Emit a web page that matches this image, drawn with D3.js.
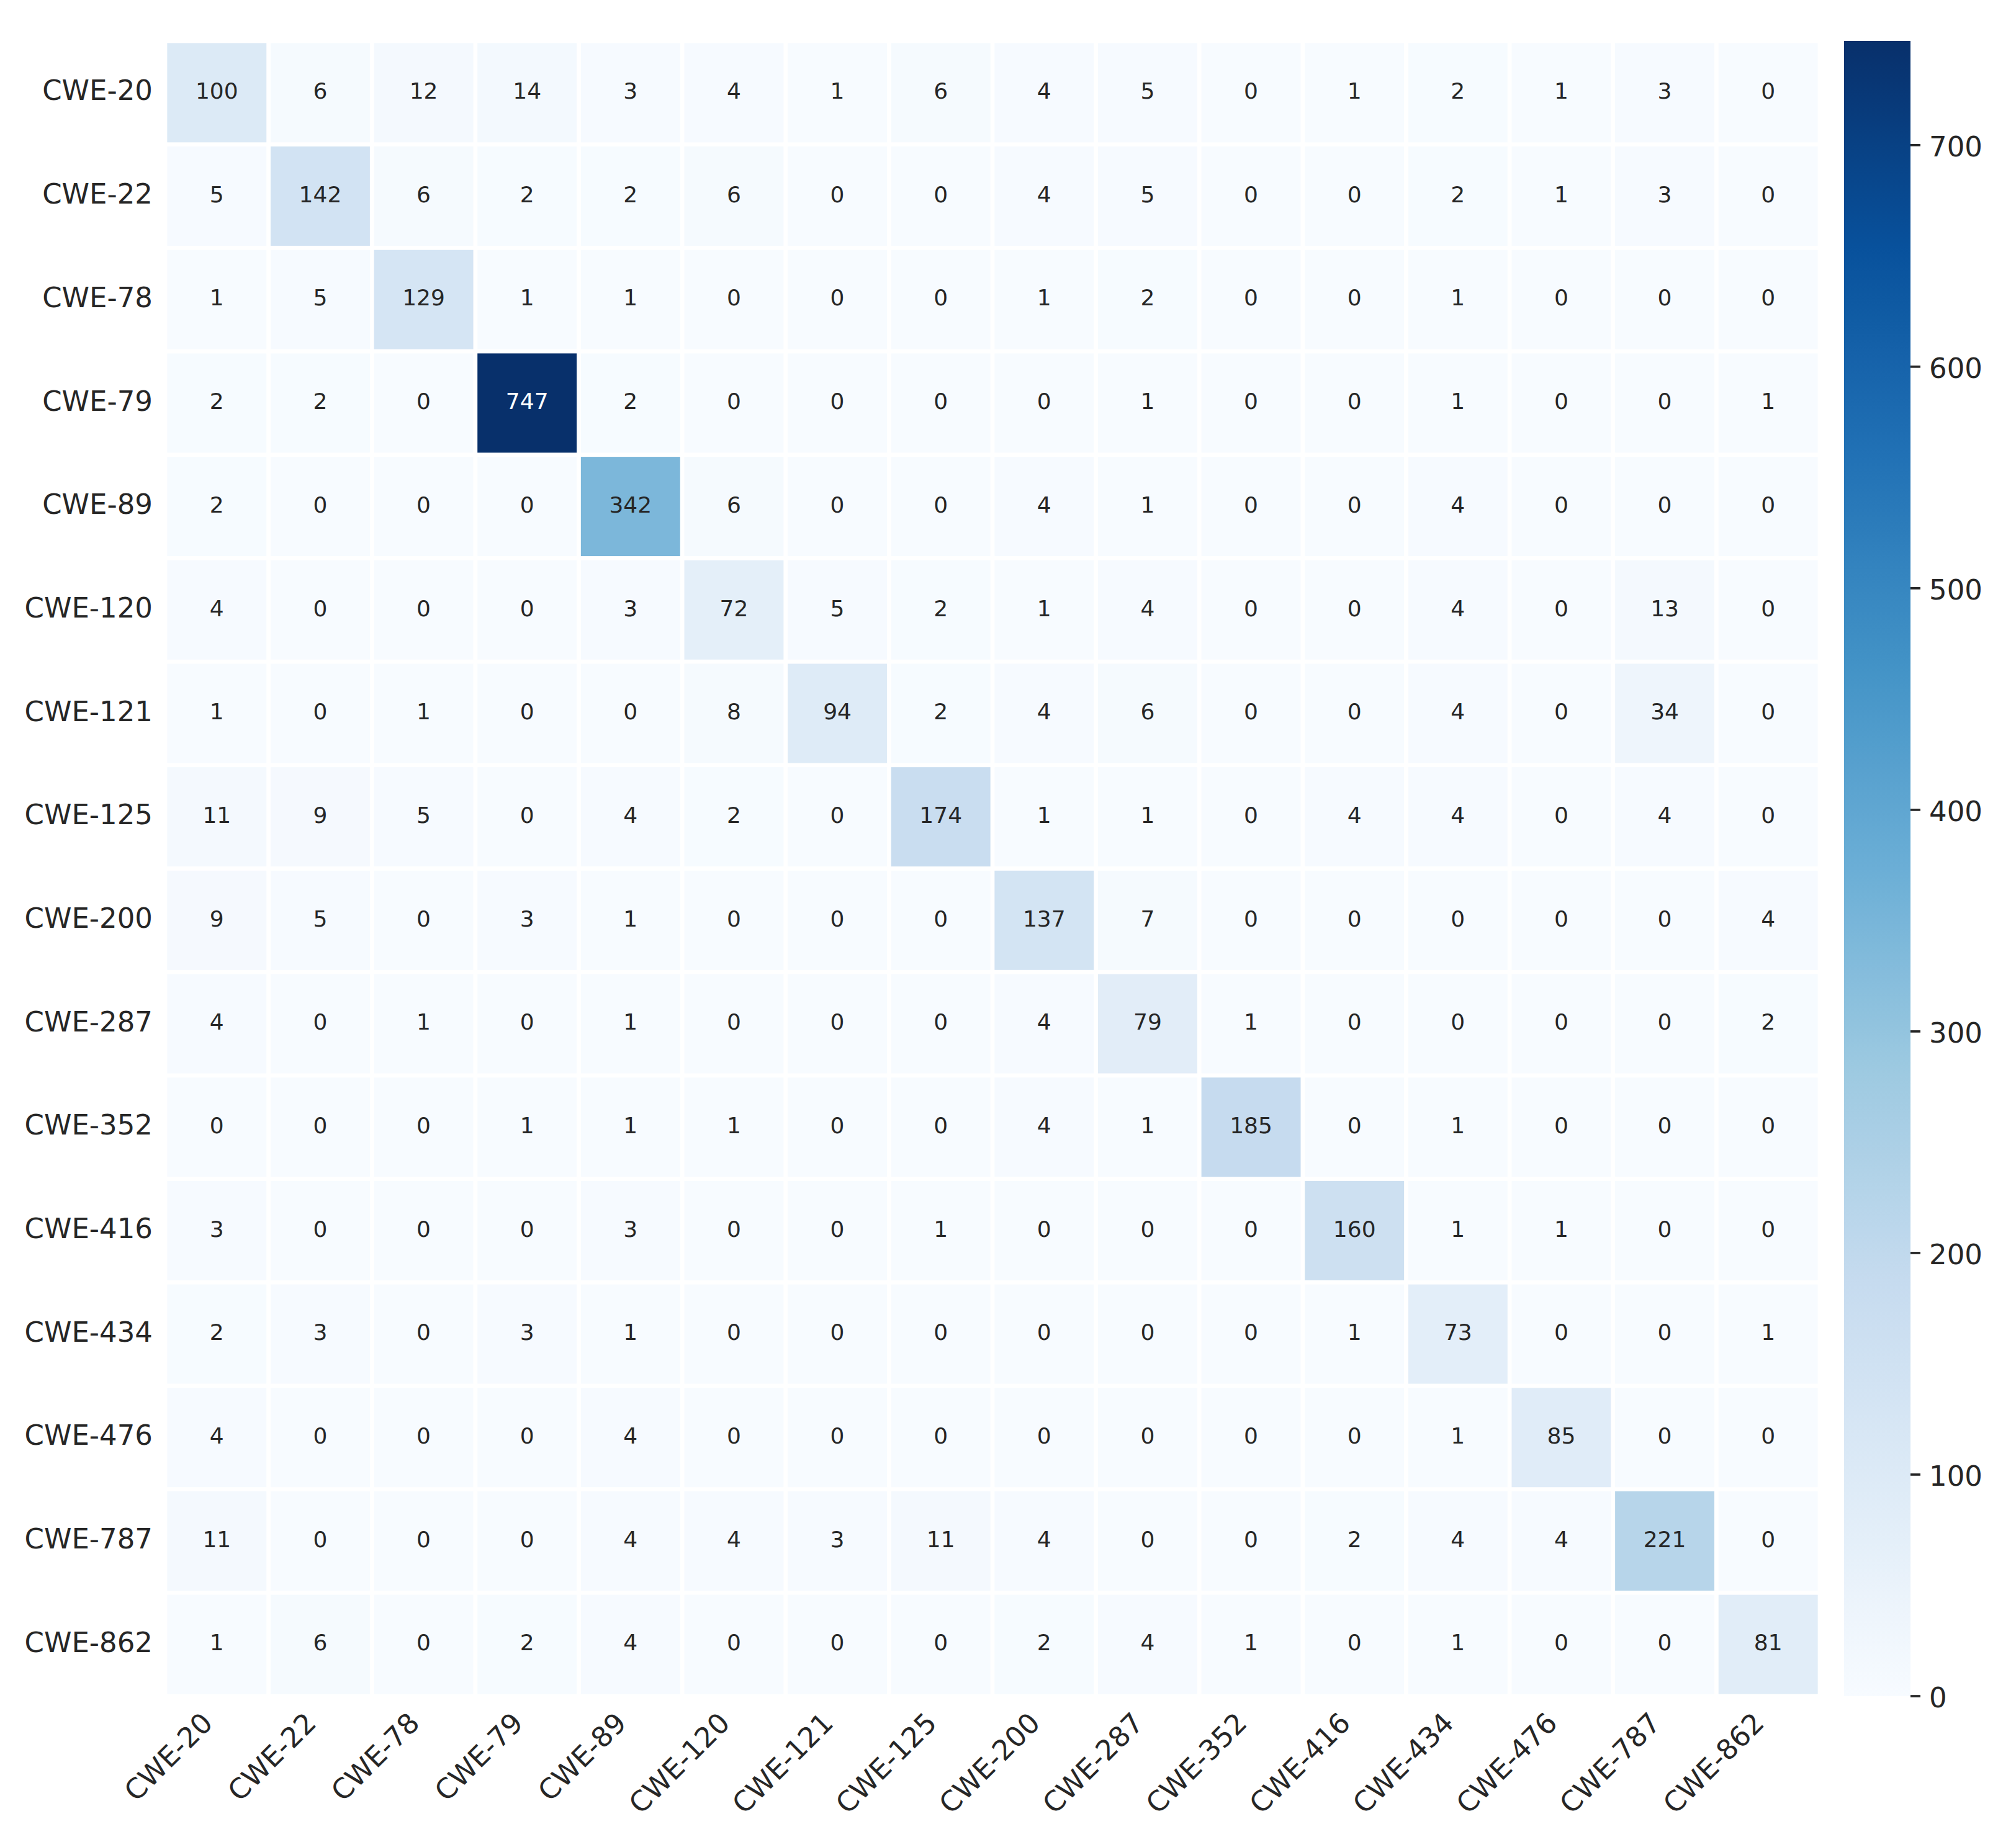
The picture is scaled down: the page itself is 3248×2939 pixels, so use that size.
<!DOCTYPE html>
<html>
<head>
<meta charset="utf-8">
<script src="https://cdn.jsdelivr.net/npm/d3@7"></script>
<style>
  html, body { margin: 0; padding: 0; background: #fff; }
  #chart svg { display: block; }
</style>
</head>
<body>
<div id="chart"></div>
<script>
const LABELS = [
  "CWE-20", "CWE-22", "CWE-78", "CWE-79", "CWE-89", "CWE-120", "CWE-121", "CWE-125",
  "CWE-200", "CWE-287", "CWE-352", "CWE-416", "CWE-434", "CWE-476", "CWE-787", "CWE-862",
];

// rows = true class, columns = predicted class
const MATRIX = [
  [100, 6, 12, 14, 3, 4, 1, 6, 4, 5, 0, 1, 2, 1, 3, 0],
  [5, 142, 6, 2, 2, 6, 0, 0, 4, 5, 0, 0, 2, 1, 3, 0],
  [1, 5, 129, 1, 1, 0, 0, 0, 1, 2, 0, 0, 1, 0, 0, 0],
  [2, 2, 0, 747, 2, 0, 0, 0, 0, 1, 0, 0, 1, 0, 0, 1],
  [2, 0, 0, 0, 342, 6, 0, 0, 4, 1, 0, 0, 4, 0, 0, 0],
  [4, 0, 0, 0, 3, 72, 5, 2, 1, 4, 0, 0, 4, 0, 13, 0],
  [1, 0, 1, 0, 0, 8, 94, 2, 4, 6, 0, 0, 4, 0, 34, 0],
  [11, 9, 5, 0, 4, 2, 0, 174, 1, 1, 0, 4, 4, 0, 4, 0],
  [9, 5, 0, 3, 1, 0, 0, 0, 137, 7, 0, 0, 0, 0, 0, 4],
  [4, 0, 1, 0, 1, 0, 0, 0, 4, 79, 1, 0, 0, 0, 0, 2],
  [0, 0, 0, 1, 1, 1, 0, 0, 4, 1, 185, 0, 1, 0, 0, 0],
  [3, 0, 0, 0, 3, 0, 0, 1, 0, 0, 0, 160, 1, 1, 0, 0],
  [2, 3, 0, 3, 1, 0, 0, 0, 0, 0, 0, 1, 73, 0, 0, 1],
  [4, 0, 0, 0, 4, 0, 0, 0, 0, 0, 0, 0, 1, 85, 0, 0],
  [11, 0, 0, 0, 4, 4, 3, 11, 4, 0, 0, 2, 4, 4, 221, 0],
  [1, 6, 0, 2, 4, 0, 0, 0, 2, 4, 1, 0, 1, 0, 0, 81],
];

const COLORBAR_TICKS = [0, 100, 200, 300, 400, 500, 600, 700];

const width = 3248;
const height = 2939;
const FONT = "DejaVu Sans, Liberation Sans, sans-serif";
const TICK_SIZE = 45;
const ANNOT_SIZE = 36;
const TEXT_DARK = "#262626";

const plot = { left: 266, right: 2932, top: 66, bottom: 2733 };
const cbar = { left: 2971, right: 3078, top: 66, bottom: 2733 };
const gap = 6.7;

const cells = MATRIX.flatMap((row, i) =>
  row.map((value, j) => ({ row: LABELS[i], col: LABELS[j], value })),
);
const vmax = d3.max(cells, (d) => d.value);

const x = d3.scaleBand().domain(LABELS).range([plot.left, plot.right]);
const y = d3.scaleBand().domain(LABELS).range([plot.top, plot.bottom]);

// matplotlib "Blues": linear segments between the 9 ColorBrewer stops
const blues = d3.schemeBlues[9];
const color = d3
  .scaleLinear()
  .domain(blues.map((_, i) => (i / (blues.length - 1)) * vmax))
  .range(blues)
  .clamp(true);

function textColor(value) {
  const c = d3.rgb(color(value));
  const lin = (v) => {
    v /= 255;
    return v <= 0.03928 ? v / 12.92 : Math.pow((v + 0.055) / 1.055, 2.4);
  };
  const lum = 0.2126 * lin(c.r) + 0.7152 * lin(c.g) + 0.0722 * lin(c.b);
  return lum > 0.408 ? TEXT_DARK : "#ffffff";
}

const svg = d3
  .select("#chart")
  .append("svg")
  .attr("width", width)
  .attr("height", height)
  .attr("font-family", FONT);

svg.append("rect").attr("width", width).attr("height", height).attr("fill", "#fff");

// heatmap cells
svg
  .append("g")
  .selectAll("rect")
  .data(cells)
  .join("rect")
  .attr("x", (d) => x(d.col) + gap / 2)
  .attr("y", (d) => y(d.row) + gap / 2)
  .attr("width", x.bandwidth() - gap)
  .attr("height", y.bandwidth() - gap)
  .attr("fill", (d) => color(d.value));

// annotations
svg
  .append("g")
  .attr("text-anchor", "middle")
  .attr("font-size", ANNOT_SIZE)
  .selectAll("text")
  .data(cells)
  .join("text")
  .attr("x", (d) => x(d.col) + x.bandwidth() / 2)
  .attr("y", (d) => y(d.row) + y.bandwidth() / 2 + ANNOT_SIZE * 0.27)
  .attr("fill", (d) => textColor(d.value))
  .text((d) => d.value);

// y tick labels
svg
  .append("g")
  .attr("text-anchor", "end")
  .attr("font-size", TICK_SIZE)
  .attr("fill", TEXT_DARK)
  .selectAll("text")
  .data(LABELS)
  .join("text")
  .attr("x", plot.left - 20)
  .attr("y", (d) => y(d) + y.bandwidth() / 2 + TICK_SIZE * 0.27)
  .text((d) => d);

// x tick labels, rotated 45 degrees
svg
  .append("g")
  .attr("text-anchor", "end")
  .attr("font-size", TICK_SIZE)
  .attr("fill", TEXT_DARK)
  .selectAll("text")
  .data(LABELS)
  .join("text")
  .attr("transform", (d) => `translate(${x(d) + x.bandwidth() / 2 - 4},${plot.bottom + 46}) rotate(-45)`)
  .text((d) => d);

// colorbar
const cb = d3.scaleLinear().domain([0, vmax]).range([cbar.bottom, cbar.top]);

const grad = svg
  .append("defs")
  .append("linearGradient")
  .attr("id", "cbar-grad")
  .attr("x1", 0)
  .attr("y1", 1)
  .attr("x2", 0)
  .attr("y2", 0);

grad
  .selectAll("stop")
  .data(d3.range(0, 1.0001, 1 / 64))
  .join("stop")
  .attr("offset", (t) => t)
  .attr("stop-color", (t) => color(t * vmax));

svg
  .append("rect")
  .attr("x", cbar.left)
  .attr("y", cbar.top)
  .attr("width", cbar.right - cbar.left)
  .attr("height", cbar.bottom - cbar.top)
  .attr("fill", "url(#cbar-grad)");

const cbAxis = svg
  .append("g")
  .attr("font-size", TICK_SIZE)
  .selectAll("g")
  .data(COLORBAR_TICKS)
  .join("g")
  .attr("transform", (d) => `translate(${cbar.right},${cb(d)})`);

cbAxis.append("line").attr("x2", 16).attr("stroke", TEXT_DARK).attr("stroke-width", 3.7);
cbAxis
  .append("text")
  .attr("x", 30)
  .attr("dy", "0.4em")
  .attr("fill", TEXT_DARK)
  .text((d) => d);
</script>
</body>
</html>
